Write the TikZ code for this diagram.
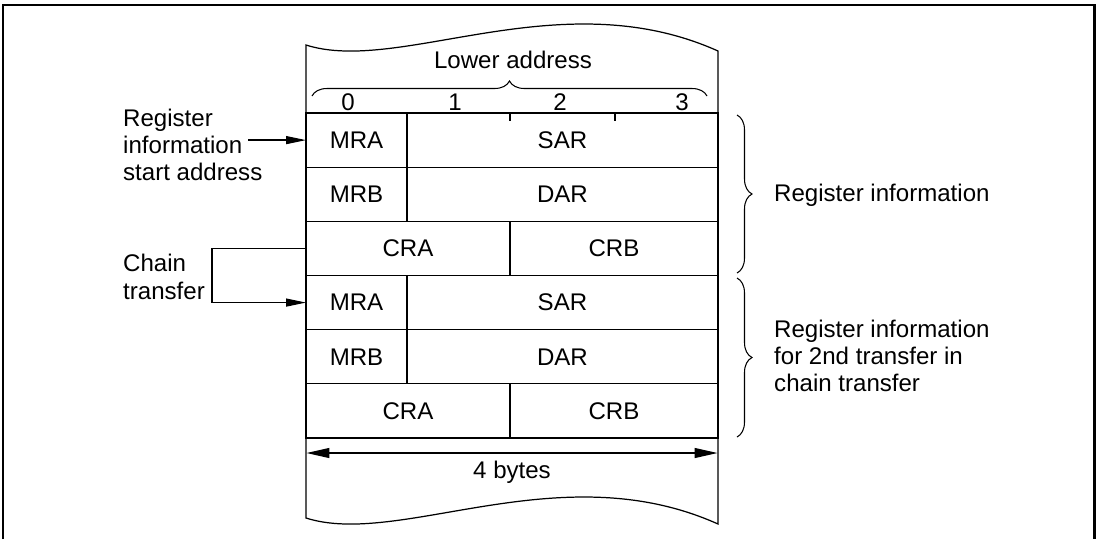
\documentclass[tikz,border=0pt]{standalone}
\usepackage{fontspec}
\setmainfont{Liberation Sans}
\usetikzlibrary{arrows.meta,decorations.pathreplacing,positioning}

\begin{document}
\begin{tikzpicture}[x=0.02cm, y=-0.02cm,
    font=\fontsize{13.7}{15.5}\selectfont,
    linea/.style={line width=0.7pt},
    celda/.style={draw, line width=0.7pt, inner sep=0pt, outer sep=0pt, minimum height=1.0833cm},
    flecha/.style={line width=0.7pt, -{Triangle[length=0.4cm,width=0.16cm]}},
    llave/.style={decorate, decoration={brace, amplitude=0.3cm}, line width=0.6pt}]
    \useasboundingbox (0,0) rectangle (1102,539);

    % Marco
    \draw[line width=1.4pt] (3,539) -- (3,5) -- (1094.5,5) -- (1094.5,539);

    % Hoja con bordes ondulados
    \draw[linea] (306,45) .. controls (400,75) and (560,-20) .. (718,51) -- (718,524)
        .. controls (560,453) and (400,548) .. (306,518) -- cycle;

    % Cabecera
    \node (dir) at (513,60) {Lower address};
    \draw[llave] (312,96) -- (707,96);
    \node (b0) at (348,102) {0};
    \node (b1) at (455,102) {1};
    \node (b2) at (560,102) {2};
    \node (b3) at (682,102) {3};

    % Primer bloque
    \node[celda, minimum width=2.02cm] (mra1) at (356.5,140.1) {MRA};
    \node[celda, minimum width=6.22cm, right=0pt of mra1] (sar1) {SAR};
    \node[celda, minimum width=2.02cm, below=0pt of mra1] (mrb1) {MRB};
    \node[celda, minimum width=6.22cm, right=0pt of mrb1] (dar1) {DAR};
    \node[celda, minimum width=4.08cm, below right=0pt of mrb1.south west] (cra1) {CRA};
    \node[celda, minimum width=4.16cm, right=0pt of cra1] (crb1) {CRB};
    \draw[linea] (510,113) -- (510,121);
    \draw[linea] (615,113) -- (615,121);

    % Segundo bloque
    \node[celda, minimum width=2.02cm, below right=0pt of cra1.south west] (mra2) {MRA};
    \node[celda, minimum width=6.22cm, right=0pt of mra2] (sar2) {SAR};
    \node[celda, minimum width=2.02cm, below=0pt of mra2] (mrb2) {MRB};
    \node[celda, minimum width=6.22cm, right=0pt of mrb2] (dar2) {DAR};
    \node[celda, minimum width=4.08cm, below right=0pt of mrb2.south west] (cra2) {CRA};
    \node[celda, minimum width=4.16cm, right=0pt of cra2] (crb2) {CRB};

    % Ancho
    \coordinate (izq) at (306.5,453);
    \coordinate (der) at (717.5,453);
    \draw[linea, {Triangle[length=0.46cm,width=0.2cm]}-{Triangle[length=0.46cm,width=0.2cm]}] (izq) -- (der);
    \node (ancho) at (512,472) {4 bytes};

    % Etiquetas izquierda
    \node[align=left, anchor=west] (inicio) at (117,145) {Register\\information\\start address};
    \coordinate (pf) at (248,140.1);
    \draw[flecha] (pf) -- (mra1.west);
    \node[align=left, anchor=west] (cadena) at (117,277) {Chain\\transfer};
    \draw[flecha] (cra1.west) -- ++(-94,0) |- (mra2.west);

    % Llaves derecha
    \draw[llave] (737,115) -- (737,273);
    \node[anchor=west] (info1) at (768,195) {Register information};
    \draw[llave] (737,278) -- (737,437);
    \node[align=left, anchor=west] (info2) at (768,356) {Register information\\for 2nd transfer in\\chain transfer};
\end{tikzpicture}
\end{document}
